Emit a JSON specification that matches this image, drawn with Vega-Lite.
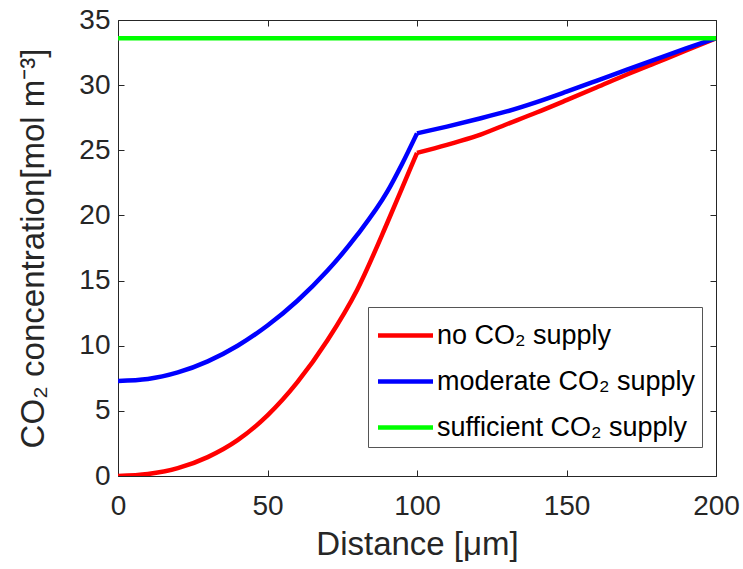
{
  "$schema": "https://vega.github.io/schema/vega-lite/v6.json",
  "width": 598,
  "height": 456,
  "autosize": {"type": "none"},
  "padding": {"left": 118, "top": 20, "right": 27, "bottom": 93},
  "background": "white",
  "config": {
    "view": {"stroke": null},
    "font": "Liberation Sans",
    "axis": {
      "grid": false,
      "domainColor": "#262626",
      "domainWidth": 1,
      "tickColor": "#262626",
      "tickWidth": 1,
      "tickSize": -6,
      "labelFlush": false,
      "labelFont": "Liberation Sans",
      "labelFontSize": 28,
      "labelColor": "#262626",
      "titleFont": "Liberation Sans",
      "titleFontSize": 33,
      "titleFontWeight": "normal",
      "titleColor": "#262626"
    }
  },
  "data": {
    "values": [
      {"d": 0, "c": 0, "s": "no CO₂ supply", "p": "a"},
      {"d": 10, "c": 0.15, "s": "no CO₂ supply", "p": "a"},
      {"d": 20, "c": 0.6, "s": "no CO₂ supply", "p": "a"},
      {"d": 30, "c": 1.45, "s": "no CO₂ supply", "p": "a"},
      {"d": 40, "c": 2.75, "s": "no CO₂ supply", "p": "a"},
      {"d": 50, "c": 4.65, "s": "no CO₂ supply", "p": "a"},
      {"d": 60, "c": 7.2, "s": "no CO₂ supply", "p": "a"},
      {"d": 70, "c": 10.4, "s": "no CO₂ supply", "p": "a"},
      {"d": 80, "c": 14.3, "s": "no CO₂ supply", "p": "a"},
      {"d": 90, "c": 19.4, "s": "no CO₂ supply", "p": "a"},
      {"d": 95, "c": 22.1, "s": "no CO₂ supply", "p": "a"},
      {"d": 100, "c": 24.8, "s": "no CO₂ supply", "p": "a"},
      {"d": 100, "c": 24.8, "s": "no CO₂ supply", "p": "b"},
      {"d": 110, "c": 25.42, "s": "no CO₂ supply", "p": "b"},
      {"d": 120, "c": 26.1, "s": "no CO₂ supply", "p": "b"},
      {"d": 130, "c": 27.0, "s": "no CO₂ supply", "p": "b"},
      {"d": 140, "c": 27.9, "s": "no CO₂ supply", "p": "b"},
      {"d": 150, "c": 28.85, "s": "no CO₂ supply", "p": "b"},
      {"d": 160, "c": 29.82, "s": "no CO₂ supply", "p": "b"},
      {"d": 170, "c": 30.8, "s": "no CO₂ supply", "p": "b"},
      {"d": 180, "c": 31.73, "s": "no CO₂ supply", "p": "b"},
      {"d": 190, "c": 32.66, "s": "no CO₂ supply", "p": "b"},
      {"d": 200, "c": 33.6, "s": "no CO₂ supply", "p": "b"},
      {"d": 0, "c": 7.3, "s": "moderate CO₂ supply", "p": "a"},
      {"d": 10, "c": 7.45, "s": "moderate CO₂ supply", "p": "a"},
      {"d": 20, "c": 7.95, "s": "moderate CO₂ supply", "p": "a"},
      {"d": 30, "c": 8.8, "s": "moderate CO₂ supply", "p": "a"},
      {"d": 40, "c": 10.0, "s": "moderate CO₂ supply", "p": "a"},
      {"d": 50, "c": 11.55, "s": "moderate CO₂ supply", "p": "a"},
      {"d": 60, "c": 13.45, "s": "moderate CO₂ supply", "p": "a"},
      {"d": 70, "c": 15.75, "s": "moderate CO₂ supply", "p": "a"},
      {"d": 80, "c": 18.5, "s": "moderate CO₂ supply", "p": "a"},
      {"d": 90, "c": 21.8, "s": "moderate CO₂ supply", "p": "a"},
      {"d": 95, "c": 23.95, "s": "moderate CO₂ supply", "p": "a"},
      {"d": 100, "c": 26.3, "s": "moderate CO₂ supply", "p": "a"},
      {"d": 100, "c": 26.3, "s": "moderate CO₂ supply", "p": "b"},
      {"d": 110, "c": 26.82, "s": "moderate CO₂ supply", "p": "b"},
      {"d": 120, "c": 27.38, "s": "moderate CO₂ supply", "p": "b"},
      {"d": 130, "c": 27.98, "s": "moderate CO₂ supply", "p": "b"},
      {"d": 140, "c": 28.7, "s": "moderate CO₂ supply", "p": "b"},
      {"d": 150, "c": 29.5, "s": "moderate CO₂ supply", "p": "b"},
      {"d": 160, "c": 30.33, "s": "moderate CO₂ supply", "p": "b"},
      {"d": 170, "c": 31.17, "s": "moderate CO₂ supply", "p": "b"},
      {"d": 180, "c": 32.0, "s": "moderate CO₂ supply", "p": "b"},
      {"d": 190, "c": 32.82, "s": "moderate CO₂ supply", "p": "b"},
      {"d": 200, "c": 33.6, "s": "moderate CO₂ supply", "p": "b"},
      {"d": 0, "c": 33.6, "s": "sufficient CO₂ supply", "p": "a"},
      {"d": 100, "c": 33.6, "s": "sufficient CO₂ supply", "p": "a"},
      {"d": 200, "c": 33.6, "s": "sufficient CO₂ supply", "p": "a"}
    ]
  },
  "layer": [
    {
      "mark": {"type": "line", "strokeWidth": 4.5, "clip": true, "interpolate": "monotone"},
      "encoding": {
        "x": {
          "field": "d", "type": "quantitative",
          "scale": {"domain": [0, 200], "nice": false, "zero": false},
          "axis": {"orient": "bottom", "values": [0, 50, 100, 150, 200], "title": "Distance [μm]", "labelPadding": 22, "titlePadding": 8}
        },
        "y": {
          "field": "c", "type": "quantitative",
          "scale": {"domain": [0, 35], "nice": false, "zero": false},
          "axis": {"orient": "left", "values": [0, 5, 10, 15, 20, 25, 30, 35], "title": "CO₂ concentration[mol m⁻³]", "labelPadding": 14, "titlePadding": 28}
        },
        "color": {
          "field": "s", "type": "nominal",
          "scale": {
            "domain": ["no CO₂ supply", "moderate CO₂ supply", "sufficient CO₂ supply"],
            "range": ["#ff0000", "#0000ff", "#00ff00"]
          },
          "legend": {
            "title": null,
            "orient": "none",
            "legendX": 250,
            "legendY": 287,
            "padding": 6,
            "strokeColor": "#555555",
            "fillColor": "white",
            "symbolType": "M-1.375,0H1.375",
            "symbolSize": 1600,
            "symbolStrokeWidth": 4.5,
            "symbolOffset": 9,
            "rowPadding": 10,
            "labelOffset": 9,
            "labelFont": "Liberation Sans",
            "labelFontSize": 27,
            "labelColor": "black",
            "labelLimit": 400
          }
        },
        "detail": {"field": "p", "type": "nominal"}
      }
    },
    {
      "mark": {"type": "line", "opacity": 0},
      "encoding": {
        "x": {
          "field": "d", "type": "quantitative",
          "scale": {"domain": [0, 200], "nice": false, "zero": false},
          "axis": {"orient": "top", "values": [0, 50, 100, 150, 200], "labels": false, "title": null}
        },
        "y": {
          "field": "c", "type": "quantitative",
          "scale": {"domain": [0, 35], "nice": false, "zero": false},
          "axis": {"orient": "right", "values": [0, 5, 10, 15, 20, 25, 30, 35], "labels": false, "title": null}
        }
      }
    }
  ],
  "resolve": {"scale": {"x": "independent", "y": "independent"}}
}
